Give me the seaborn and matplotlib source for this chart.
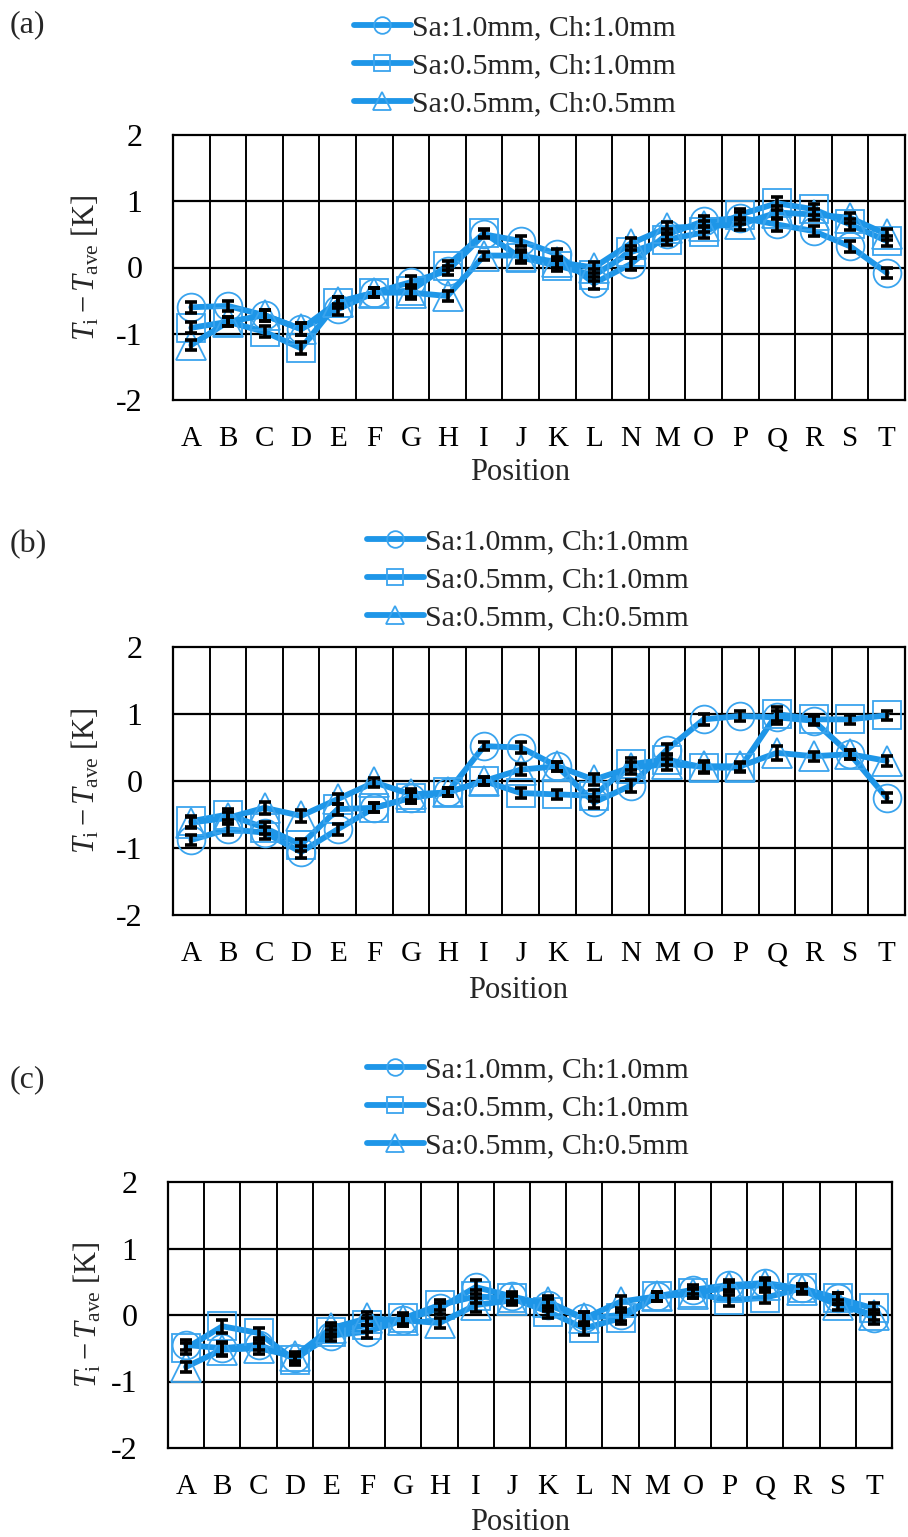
import numpy as np
import pandas as pd
import matplotlib
matplotlib.use("Agg")
import matplotlib.pyplot as plt
import seaborn as sns

positions = ["A", "B", "C", "D", "E", "F", "G", "H", "I", "J",
             "K", "L", "N", "M", "O", "P", "Q", "R", "S", "T"]
series_labels = ["Sa:1.0mm, Ch:1.0mm", "Sa:0.5mm, Ch:1.0mm", "Sa:0.5mm, Ch:0.5mm"]

# panel (a)
a_circle = [-0.60, -0.58, -0.72, -0.93, -0.63, -0.38, -0.22, -0.05, 0.50, 0.40,
            0.20, -0.24, 0.05, 0.50, 0.70, 0.75, 0.65, 0.55, 0.32, -0.08]
a_square = [-0.91, -0.82, -0.97, -1.22, -0.53, -0.38, -0.35, 0.03, 0.52, 0.15,
            0.03, -0.12, 0.23, 0.42, 0.53, 0.80, 0.97, 0.88, 0.65, 0.40]
a_triangle = [-1.17, -0.82, -0.72, -0.93, -0.52, -0.38, -0.38, -0.43, 0.18, 0.18,
              0.08, 0.00, 0.36, 0.60, 0.62, 0.65, 0.83, 0.80, 0.75, 0.50]
a_err = [0.08, 0.07, 0.08, 0.09, 0.08, 0.07, 0.09, 0.07, 0.06, 0.08,
         0.08, 0.09, 0.09, 0.08, 0.08, 0.09, 0.10, 0.08, 0.08, 0.08]

# panel (b)
b_circle = [-0.88, -0.72, -0.77, -1.06, -0.72, -0.40, -0.25, -0.17, 0.52, 0.50,
            0.22, -0.32, -0.07, 0.47, 0.92, 0.97, 0.95, 0.90, 0.40, -0.25]
b_square = [-0.60, -0.50, -0.70, -0.95, -0.42, -0.40, -0.25, -0.17, 0.00, -0.18,
            -0.20, -0.22, 0.25, 0.32, 0.20, 0.20, 1.00, 0.92, 0.92, 0.98]
b_triangle = [-0.62, -0.55, -0.40, -0.52, -0.27, -0.02, -0.20, -0.17, 0.00, 0.17,
              0.22, 0.02, 0.20, 0.25, 0.22, 0.22, 0.42, 0.37, 0.40, 0.30]
b_err = [0.08, 0.08, 0.09, 0.09, 0.08, 0.07, 0.08, 0.06, 0.06, 0.08,
         0.07, 0.08, 0.09, 0.08, 0.08, 0.07, 0.10, 0.07, 0.07, 0.07]

# panel (c)
c_circle = [-0.45, -0.50, -0.45, -0.65, -0.31, -0.25, -0.08, 0.10, 0.42, 0.28,
            0.15, -0.05, 0.00, 0.28, 0.38, 0.45, 0.48, 0.40, 0.25, -0.05]
c_square = [-0.50, -0.17, -0.27, -0.68, -0.25, -0.15, -0.05, 0.15, 0.28, 0.25,
            0.05, -0.20, -0.05, 0.28, 0.33, 0.22, 0.26, 0.40, 0.25, 0.10]
c_triangle = [-0.78, -0.52, -0.50, -0.62, -0.20, -0.05, -0.08, -0.12, 0.15, 0.22,
              0.20, -0.05, 0.20, 0.28, 0.32, 0.42, 0.45, 0.38, 0.15, 0.00]
c_err = [0.08, 0.10, 0.08, 0.07, 0.08, 0.10, 0.08, 0.08, 0.10, 0.07,
         0.09, 0.10, 0.09, 0.07, 0.07, 0.08, 0.08, 0.06, 0.08, 0.08]

panels = [
    ("(a)", [a_circle, a_square, a_triangle], a_err),
    ("(b)", [b_circle, b_square, b_triangle], b_err),
    ("(c)", [c_circle, c_square, c_triangle], c_err),
]

W, H = 908, 1537
sns.set_theme(style="white")
plt.rcParams["font.family"] = ["Liberation Serif", "DejaVu Serif"]
plt.rcParams["mathtext.fontset"] = "custom"
plt.rcParams["mathtext.rm"] = "Liberation Serif"
plt.rcParams["mathtext.it"] = "Liberation Serif:italic"

fig = plt.figure(figsize=(W / 100, H / 100), dpi=100)
fig.patch.set_facecolor("white")

# pixel layout: (left, right, top, bottom)
boxes = [(173, 905, 135, 400), (173, 905, 647, 915), (168, 892, 1182, 1448)]
legend_centers = [(515, 66), (528, 580), (528, 1108)]
panel_label_y = [25, 545, 1080]
xlabel_pos = [(520, 473), (518, 990), (520, 1522)]
ylabel_x = [86, 86, 88]

line_color = "#1e96e8"
marker_edge = "#3aa4ee"
markers = ["o", "s", "^"]
msizes = [20, 20, 22]

for i, (plabel, vals, err) in enumerate(panels):
    l, r, t, b = boxes[i]
    ax = fig.add_axes([l / W, 1 - b / H, (r - l) / W, (b - t) / H])
    x = np.arange(len(positions))
    df = pd.DataFrame({
        "x": np.tile(x, 3),
        "y": np.concatenate(vals),
        "series": np.repeat(series_labels, len(positions)),
    })
    for k, lab in enumerate(series_labels):
        sub = df[df["series"] == lab]
        sns.lineplot(data=sub, x="x", y="y", ax=ax, sort=False, color=line_color,
                     lw=4.2, marker=markers[k], markersize=msizes[k],
                     markerfacecolor="none", markeredgecolor=marker_edge,
                     markeredgewidth=1.3, label=lab, zorder=3)
        ax.errorbar(sub["x"], sub["y"], yerr=err, fmt="none", ecolor="black",
                    elinewidth=2.6, capsize=4.5, capthick=2.6, zorder=4)
    ax.set_xlim(-0.5, len(positions) - 0.5)
    ax.set_ylim(-2, 2)
    ax.set_yticks([-2, -1, 0, 1, 2])
    ax.set_yticklabels(["-2", "-1", "0", "1", "2"])
    ax.set_xticks(x)
    ax.set_xticklabels(positions)
    for xv in np.arange(0.5, len(positions) - 0.5, 1.0):
        ax.axvline(xv, color="black", lw=1.4, zorder=1)
    for yv in [-1, 0, 1]:
        ax.axhline(yv, color="black", lw=1.6, zorder=1)
    for s in ax.spines.values():
        s.set_color("black")
        s.set_linewidth(1.6)
    ax.tick_params(axis="x", length=0, labelsize=21, colors="black", pad=19)
    ax.tick_params(axis="y", length=0, labelsize=23, colors="black", pad=22)
    ax.set_xlabel("")
    ax.set_ylabel("")
    handles, labels = ax.get_legend_handles_labels()
    if ax.get_legend():
        ax.get_legend().remove()
    lx, ly = legend_centers[i]
    fig.legend(handles[:3], labels[:3], loc="center",
               bbox_to_anchor=(lx / W, 1 - ly / H), frameon=False,
               fontsize=21.5, handlelength=1.9, handletextpad=0.05,
               labelspacing=0.38, borderpad=0, markerscale=0.6)
    fig.text(10 / W, 1 - panel_label_y[i] / H, plabel, fontsize=23,
             ha="left", va="center")
    px, py = xlabel_pos[i]
    fig.text(px / W, 1 - py / H, "Position", fontsize=22,
             ha="center", va="center")
    fig.text(ylabel_x[i] / W, 1 - ((t + b) / 2) / H,
             r"$T_{\rm i} - T_{\rm ave}$ [K]", fontsize=22, rotation=90,
             ha="center", va="center")

fig.savefig("out.png", dpi=100, facecolor="white")
